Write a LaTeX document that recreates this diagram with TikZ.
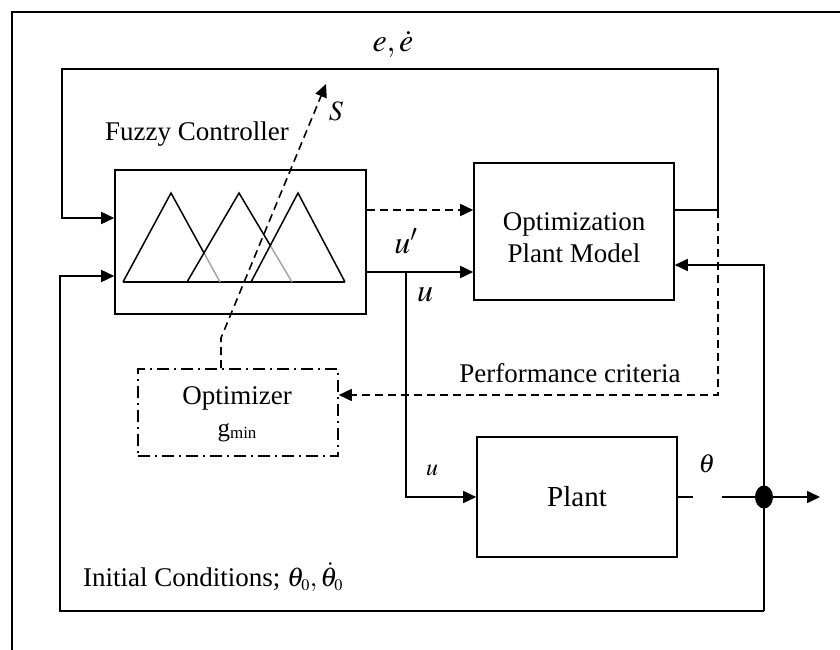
\documentclass[tikz,border=0pt]{standalone}
\usepackage{mathptmx}
\usepackage[no-math]{fontspec}
\setmainfont{Liberation Serif}
\usetikzlibrary{arrows.meta,shapes.geometric}
\tikzset{
  blk/.style={draw, line width=1.6pt, inner sep=0pt, align=center, font=\fontsize{27}{32}\selectfont},
  con/.style={line width=1.6pt},
  arr/.style={con, -{Triangle[length=13pt,width=12pt]}},
  dsh/.style={dash pattern=on 8pt off 5pt},
  dshdot/.style={dash pattern=on 12pt off 5pt on 2pt off 5pt},
  lbl/.style={inner sep=0pt, font=\fontsize{27}{32}\selectfont},
  tri/.style={line width=1.5pt, line join=miter},
}
\begin{document}
\begin{tikzpicture}[x=1pt,y=-1pt]
\useasboundingbox (0,0) rectangle (840,650);
% frame
\draw[line width=2.6pt] (840,12) -- (12,12) -- (12,650);

% blocks
\node[blk, minimum width=251pt, minimum height=144pt] (fz) at (240.5,242) {};
\node[blk, minimum width=200pt, minimum height=137pt] (opm) at (574,231.5) {};
\node[lbl, align=center] (lopm) at (574,238) {Optimization\\Plant Model};
\node[blk, dshdot, minimum width=200pt, minimum height=87pt] (opt) at (238,412.5) {};
\node[blk, minimum width=200pt, minimum height=120pt, font=\fontsize{29}{34}\selectfont] (pl) at (577,497) {Plant};
\node[fill, ellipse, inner sep=0pt, minimum width=18pt, minimum height=23pt] (dot) at (764,497) {};

% triangles
\draw[tri] (123,282) -- (345,282);
\draw[tri] (123,282) -- (171,193) -- (204,253);
\draw[tri, gray!70] (204,253) -- (220,282);
\draw[tri] (187,282) -- (239,193) -- (270.3,245.5);
\draw[tri, gray!70] (270.3,245.5) -- (292,282);
\draw[tri] (251,282) -- (298,193) -- (345,282);

% labels
\node[lbl] (lfz) at (197,134) {Fuzzy Controller};
\node[lbl] (lopt) at (237,398) {Optimizer};
\node[lbl] (lg) at (237,433) {\fontsize{25}{30}\selectfont g\raisebox{-2pt}{\fontsize{17}{20}\selectfont min}};
\node[lbl] (lperf) at (570,373) {Performance criteria};
\node[lbl, anchor=west] (lic) at (83,577) {Initial Conditions; $\theta_{\scriptscriptstyle 0}{,}\,\dot\theta_{\scriptscriptstyle 0}$};
\node[lbl, font=\fontsize{32}{36}\selectfont] (le) at (393,45) {$e,\dot e$};
\node[lbl, font=\fontsize{28}{32}\selectfont] (ls) at (336,111) {$S$};
\node[lbl, font=\fontsize{32}{36}\selectfont] (lup) at (406,241) {$u'$};
\node[lbl, font=\fontsize{32}{36}\selectfont] (lu) at (425,295) {$u$};
\node[lbl, font=\fontsize{24}{28}\selectfont] (lus) at (432,470) {$u$};
\node[lbl, font=\fontsize{26}{30}\selectfont] (lth) at (707,464) {$\theta$};

% coordinates
\coordinate (a1) at (718,210);
\coordinate (t1) at (718,69);
\coordinate (t2) at (62,69);
\coordinate (t3) at (62,218);
\coordinate (b1) at (764,265);
\coordinate (b2) at (764,611);
\coordinate (b3) at (60,611);
\coordinate (b4) at (60,276);
\coordinate (u1) at (406,272);
\coordinate (p1) at (693,497);
\coordinate (p2) at (722,497);
\coordinate (out) at (820,497);
\coordinate (c1) at (718,395);
\coordinate (s1) at (221,338);
\coordinate (s2) at (326,84);

% connectors
\draw[arr, line join=miter] (opm.east |- a1) -- (a1) -- (t1) -- (t2) -- (t3) -- (fz.west |- t3);
\draw[arr, line join=miter] (b2) -- (b3) -- (b4) -- (fz.west |- b4);
\draw[arr, line join=miter] (b2) -- (b1) -- (opm.east |- b1);
\draw[arr, dsh] (fz.east |- a1) -- (opm.west |- a1);
\draw[arr] (fz.east |- u1) -- (opm.west |- u1);
\draw[arr, line join=miter] (u1) -- (u1 |- pl.west) -- (pl.west);
\draw[con] (pl.east) -- (p1);
\draw[con] (p2) -- (dot);
\draw[arr] (dot) -- (out);
\draw[arr, dsh, line join=miter] (a1) -- (c1) -- (opt.east |- c1);
\draw[arr, dsh] (s1 |- opt.north) -- (s1) -- (s2);
\end{tikzpicture}
\end{document}
